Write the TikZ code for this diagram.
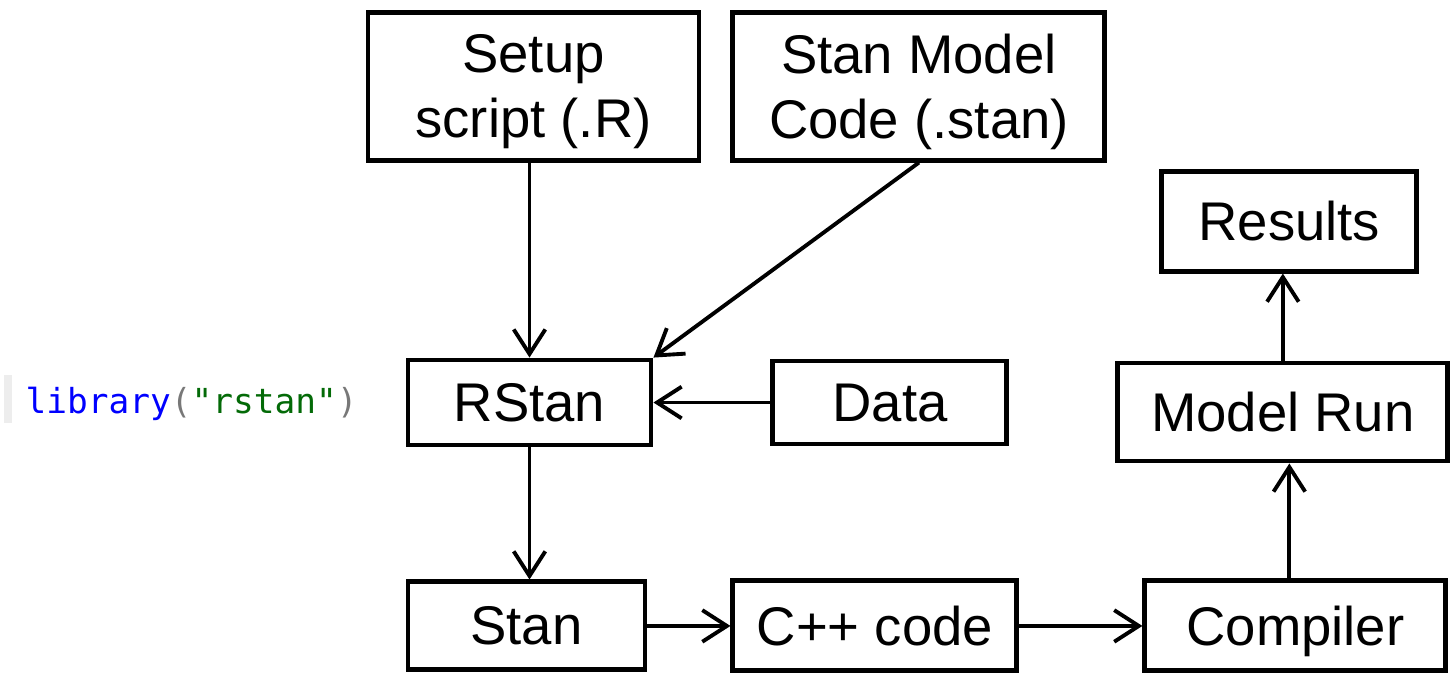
\documentclass[tikz,border=0pt]{standalone}
\usepackage{fontspec}
\setmainfont{Liberation Sans}
\newfontfamily\codefont{DejaVu Sans Mono}
\usetikzlibrary{positioning,arrows.meta}
\definecolor{rkeyword}{RGB}{0,0,255}
\definecolor{rstring}{RGB}{3,106,7}
\definecolor{rparen}{RGB}{120,120,120}
\tikzset{
  box/.style={draw, line width=1.4pt, align=center, inner sep=0pt, text depth=0pt,
    font=\fontsize{15.5}{18.4}\selectfont},
  flow/.style={-{Straight Barb[length=7pt,width=9pt]}, line width=1.1pt},
}

\begin{document}
\begin{tikzpicture}
  \useasboundingbox (0,0) rectangle (14.5,-6.74);
  \node [box, minimum width=2.43cm, minimum height=0.85cm] (rstan) at (5.295,-4.025) {RStan};
  \node [box, minimum width=3.31cm, minimum height=1.48cm, above=1.95cm of rstan, xshift=0.04cm] (setup) {Setup\\script (.R)};
  \node [box, minimum width=3.72cm, minimum height=1.48cm, right=0.29cm of setup] (model) {Stan Model\\Code (.stan)};
  \node [box, minimum width=2.34cm, minimum height=0.83cm, right=1.17cm of rstan] (data) {Data};
  \node [box, minimum width=2.37cm, minimum height=0.88cm, below=1.32cm of rstan, xshift=-0.03cm] (stan) {Stan};
  \node [box, minimum width=2.84cm, minimum height=0.9cm, right=0.83cm of stan] (cpp) {C++ code};
  \node [box, minimum width=3.01cm, minimum height=0.9cm, right=1.23cm of cpp] (compiler) {Compiler};
  \node [box, minimum width=3.3cm, minimum height=0.98cm, above=1.15cm of compiler, xshift=-0.125cm] (run) {Model Run};
  \node [box, minimum width=2.55cm, minimum height=1cm, above=0.87cm of run, xshift=0.065cm] (results) {Results};

  \fill [black!7] (0.04,-3.75) rectangle (0.12,-4.23) coordinate (bar);
  \node [anchor=base west, inner sep=0pt, font=\codefont\fontsize{9.8}{12}\selectfont] (libcall) at (0.25,-4.13)
    {\textcolor{rkeyword}{library}\textcolor{rparen}{(}\textcolor{rstring}{"rstan"}\textcolor{rparen}{)}};

  \draw [flow] (setup.south -| rstan) -- (rstan.north);
  \draw [flow] (model.south) -- (rstan.north east);
  \draw [flow] (data) -- (rstan);
  \draw [flow] (rstan) -- (rstan |- stan.north);
  \draw [flow] (stan) -- (cpp);
  \draw [flow] (cpp) -- (compiler);
  \draw [flow] (compiler.north -| results) -- (results |- run.south);
  \draw [flow] (run) -- (run |- results.south);
\end{tikzpicture}
\end{document}
